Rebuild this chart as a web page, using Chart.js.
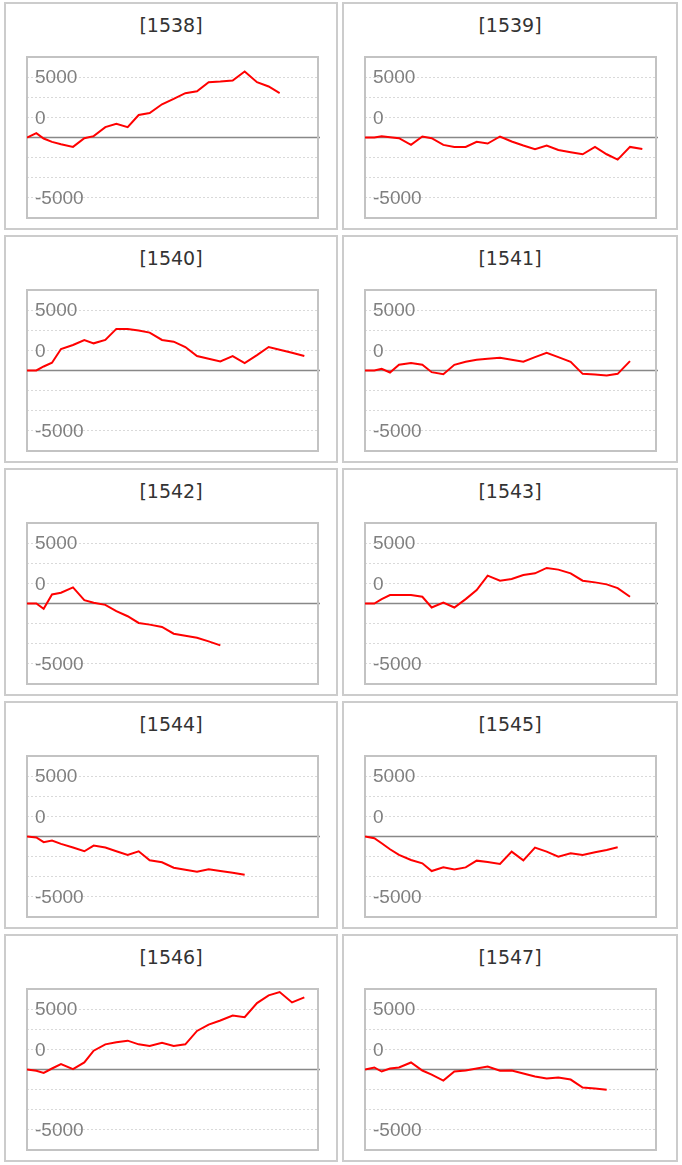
<!DOCTYPE html>
<html>
<head>
<meta charset="utf-8">
<script src="https://cdn.jsdelivr.net/npm/chart.js@4.4.1/dist/chart.umd.min.js"></script>
<style>
  body { margin: 0; background: #fff; width: 682px; height: 1165px; position: relative; overflow: hidden; }
  .panel { position: absolute; box-sizing: border-box; border: 2px solid #cccccc; height: 228px; background: #fff; }
  .panel .title { position: absolute; left: 0; right: 0; top: 9px; text-align: center;
    font-family: 'DejaVu Sans', sans-serif; font-size: 19px; line-height: 24px; color: #333; }
  .panel canvas { position: absolute; left: 19px; top: 51px; }
</style>
</head>
<body>
<script>
// days since start, shared by every panel
const xDays = [0, 5.6, 10, 15, 20.4, 27.6, 34.4, 40, 47, 53.6, 60.4, 67, 73.6, 81, 88, 95, 102, 109, 116, 123.4, 130.6, 138, 145, 151.6, 159, 166.4];
const xMax = 174.6;

const s1538 = [0, 361, -83, -361, -556, -778, -56, 111, 861, 1139, 861, 1861, 2028, 2750, 3194, 3667, 3833, 4583, 4639, 4722, 5472, 4583, 4222, 3667];
const s1539 = [0, 0, 111, 28, -56, -611, 83, -56, -611, -778, -778, -361, -500, 83, -333, -667, -972, -667, -1028, -1222, -1389, -778, -1389, -1833, -778, -944];
const s1540 = [0, 0, 333, 639, 1778, 2111, 2528, 2250, 2528, 3444, 3444, 3306, 3139, 2528, 2389, 1944, 1194, 972, 750, 1194, 611, 1278, 1944, 1722, 1472, 1194];
const s1541 = [0, 0, 139, -167, 472, 611, 472, -139, -306, 472, 722, 889, 972, 1056, 889, 722, 1111, 1472, 1111, 722, -278, -333, -417, -278, 778];
const s1542 = [0, 0, -444, 750, 889, 1333, 278, 56, -111, -639, -1056, -1611, -1750, -1944, -2500, -2667, -2833, -3139, -3472];
const s1543 = [0, 0, 361, 694, 694, 694, 556, -333, 83, -333, 361, 1111, 2306, 1889, 2028, 2361, 2500, 2944, 2806, 2500, 1889, 1750, 1583, 1278, 556];
const s1544 = [0, -83, -472, -333, -611, -917, -1222, -750, -917, -1222, -1528, -1222, -1972, -2139, -2583, -2750, -2917, -2722, -2861, -3000, -3167];
const s1545 = [0, -139, -556, -1056, -1528, -1944, -2222, -2861, -2556, -2722, -2556, -2000, -2111, -2278, -1250, -1972, -917, -1250, -1667, -1389, -1528, -1306, -1111, -889];
const s1546 = [0, -111, -278, 83, 444, 28, 583, 1556, 2083, 2250, 2389, 2083, 1944, 2222, 1944, 2083, 3194, 3722, 4056, 4472, 4333, 5500, 6139, 6417, 5556, 5972];
const s1547 = [0, 167, -167, 83, 167, 583, -83, -417, -917, -167, -83, 83, 250, -100, -83, -333, -583, -750, -667, -833, -1500, -1583, -1667];

const panelIds = ['1538', '1539', '1540', '1541', '1542', '1543', '1544', '1545', '1546', '1547'];
const panelSeries = [s1538, s1539, s1540, s1541, s1542, s1543, s1544, s1545, s1546, s1547];

// grid every 5000/3, labels only on some lines (bottom to top)
const yStep = 5000 / 3;
const yTickLabels = ['', '-5000', '', '', '', '0', '', '5000', ''];

// zero line, plot frame and the inside tick labels
const frameLines = {
  id: 'frameLines',
  beforeDatasetsDraw(chart) {
    const { ctx, chartArea: a } = chart;
    const y = chart.scales.y;
    const zeroY = y.getPixelForValue(0);
    ctx.save();
    ctx.strokeStyle = '#888888';
    ctx.lineWidth = 1.5;
    ctx.beginPath();
    ctx.moveTo(a.left, zeroY);
    ctx.lineTo(a.right + 2, zeroY);
    ctx.stroke();
    ctx.strokeStyle = '#c3c3c3';
    ctx.lineWidth = 2;
    ctx.strokeRect(a.left, a.top, a.right - a.left, a.bottom - a.top);

    ctx.fillStyle = '#808080';
    ctx.font = '19px "Liberation Sans"';
    ctx.textBaseline = 'middle';
    ctx.textAlign = 'left';
    y.ticks.forEach((t, i) => {
      if (yTickLabels[i]) ctx.fillText(yTickLabels[i], a.left + 8, y.getPixelForValue(t.value) + 1);
    });
    ctx.restore();
  }
};

function createPanel(id, values, index) {
  const col = index % 2;
  const row = Math.floor(index / 2);

  const panel = document.createElement('div');
  panel.className = 'panel';
  panel.style.left = (col == 0 ? 4 : 342) + 'px';
  panel.style.width = (col == 0 ? 334 : 336) + 'px';
  panel.style.top = (2 + row * 233) + 'px';

  const title = document.createElement('div');
  title.className = 'title';
  title.textContent = '[' + id + ']';
  panel.appendChild(title);

  const canvas = document.createElement('canvas');
  canvas.width = 296;
  canvas.height = 166;
  panel.appendChild(canvas);
  document.body.appendChild(panel);

  const points = values.map((v, i) => ({ x: xDays[i], y: v }));

  new Chart(canvas, {
    type: 'line',
    data: {
      datasets: [{
        data: points,
        borderColor: '#ff0000',
        borderWidth: 2,
        pointRadius: 0,
        tension: 0,
        fill: false
      }]
    },
    options: {
      responsive: false,
      animation: false,
      layout: { autoPadding: false, padding: { left: 2, top: 2, right: 3, bottom: 3 } },
      plugins: { legend: { display: false }, tooltip: { enabled: false } },
      scales: {
        x: { type: 'linear', display: false, min: 0, max: xMax },
        y: {
          min: -4 * yStep,
          max: 4 * yStep,
          afterBuildTicks: (scale) => {
            scale.ticks = yTickLabels.map((_, i) => ({ value: (i - 4) * yStep }));
          },
          border: { display: false, dash: [2, 2] },
          grid: { color: '#d9d9d9', lineWidth: 1, drawTicks: false },
          ticks: { display: false, autoSkip: false }
        }
      }
    },
    plugins: [frameLines]
  });
}

panelIds.forEach((id, i) => createPanel(id, panelSeries[i], i));
</script>
</body>
</html>
